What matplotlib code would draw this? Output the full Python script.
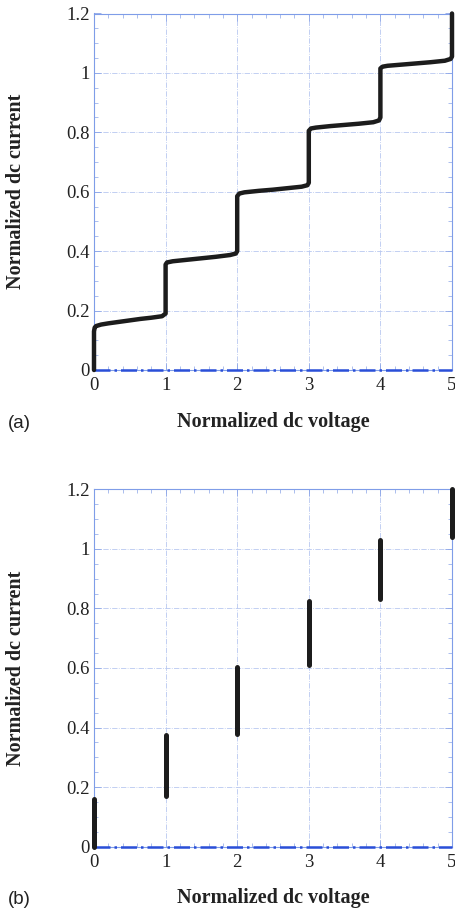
import matplotlib
matplotlib.use("Agg")
import matplotlib.pyplot as plt
from matplotlib.ticker import MultipleLocator

# Panel (a): measured I-V staircase (normalized)
volt_a = [0.0, 0.0, 0.01, 0.03, 0.1, 0.2, 0.35, 0.5, 0.65, 0.8, 0.95, 1.0,
          1.0, 1.02, 1.1, 1.3, 1.5, 1.7, 1.9, 1.98, 2.0,
          2.0, 2.03, 2.1, 2.3, 2.5, 2.7, 2.9, 2.98, 3.0,
          3.0, 3.03, 3.1, 3.3, 3.5, 3.7, 3.9, 3.98, 4.0,
          4.0, 4.03, 4.1, 4.3, 4.5, 4.7, 4.9, 4.98, 5.0, 5.0]
curr_a = [0.0, 0.13, 0.143, 0.148, 0.153, 0.157, 0.162, 0.167, 0.172, 0.176, 0.181, 0.19,
          0.355, 0.362, 0.366, 0.371, 0.376, 0.381, 0.387, 0.392, 0.40,
          0.585, 0.594, 0.598, 0.603, 0.607, 0.612, 0.617, 0.622, 0.63,
          0.805, 0.813, 0.816, 0.821, 0.825, 0.829, 0.834, 0.84, 0.85,
          1.015, 1.021, 1.024, 1.028, 1.032, 1.036, 1.041, 1.047, 1.055, 1.2]

# Panel (b): current ranges at each integer voltage
volt_b = [0, 1, 2, 3, 4, 5]
curr_b_low = [0.0, 0.17, 0.38, 0.61, 0.83, 1.04]
curr_b_high = [0.16, 0.375, 0.605, 0.825, 1.03, 1.2]

xticks = [0, 1, 2, 3, 4, 5]
yticks = [0, 0.2, 0.4, 0.6, 0.8, 1.0, 1.2]
ytick_labels = ["0", "0.2", "0.4", "0.6", "0.8", "1", "1.2"]

fig = plt.figure(figsize=(4.55, 9.14), dpi=100)
W, H = 455, 914
LEFT, RIGHT = 94, 452

serif = ["Liberation Serif", "DejaVu Serif"]
sans = ["Liberation Sans", "DejaVu Sans"]

def make_ax(top_px, bottom_px, xlabel_y_px):
    ax = fig.add_axes([LEFT / W, 1 - bottom_px / H, (RIGHT - LEFT) / W, (bottom_px - top_px) / H])
    hpx = bottom_px - top_px
    ax.set_xlim(0, 5)
    ax.set_ylim(0, 1.2)
    ax.set_xticks(xticks)
    ax.set_xticklabels([str(t) for t in xticks], fontfamily=serif, fontsize=13.5, color="#222222")
    ax.set_yticks(yticks)
    ax.set_yticklabels(ytick_labels, fontfamily=serif, fontsize=13.5, color="#222222")
    ax.xaxis.set_minor_locator(MultipleLocator(0.2))
    ax.yaxis.set_minor_locator(MultipleLocator(0.05))
    ax.tick_params(which="both", direction="in", top=True, right=True, color="#8aa4e8")
    ax.tick_params(which="major", length=5, width=0.6, pad=3)
    ax.tick_params(which="minor", length=3, width=0.5)
    ax.tick_params(axis="x", pad=5)
    ax.grid(True, which="major", color="#b8c8f0", linestyle="-.", linewidth=0.6)
    ax.set_axisbelow(True)
    for s in ax.spines.values():
        s.set_color("#7f9de8")
        s.set_linewidth(0.8)
    ax.set_xlabel("Normalized dc voltage", fontfamily=serif, fontweight="bold",
                  fontsize=14.5, color="#222222", va="center")
    ax.xaxis.set_label_coords(0.5, -(xlabel_y_px - bottom_px) / hpx)
    ax.set_ylabel("Normalized dc current", fontfamily=serif, fontweight="bold",
                  fontsize=14.5, color="#222222", va="center")
    ax.yaxis.set_label_coords((16.5 - LEFT) / (RIGHT - LEFT), 0.5)
    # zero line (dash-dot blue)
    ax.plot([0, 5], [0, 0], color="#2a4fd8", linestyle="-.", linewidth=1.8,
            clip_on=False, zorder=3)
    return ax

ax_a = make_ax(13.5, 370, 422)
ax_a.plot(volt_a, curr_a, color="#1c1c1c", linewidth=3.2, solid_capstyle="round",
          solid_joinstyle="round", clip_on=False, zorder=4)

ax_b = make_ax(489.3, 846.7, 898)
ax_b.vlines(volt_b, curr_b_low, curr_b_high, color="#1c1c1c", linewidth=3.6,
            capstyle="round", clip_on=False, zorder=4)

fig.text(8 / W, 1 - 423 / H, "(a)", fontfamily=sans, fontsize=13.5, va="center", ha="left", color="#222222")
fig.text(8 / W, 1 - 899 / H, "(b)", fontfamily=sans, fontsize=13.5, va="center", ha="left", color="#222222")

fig.savefig("out.png", dpi=100)
